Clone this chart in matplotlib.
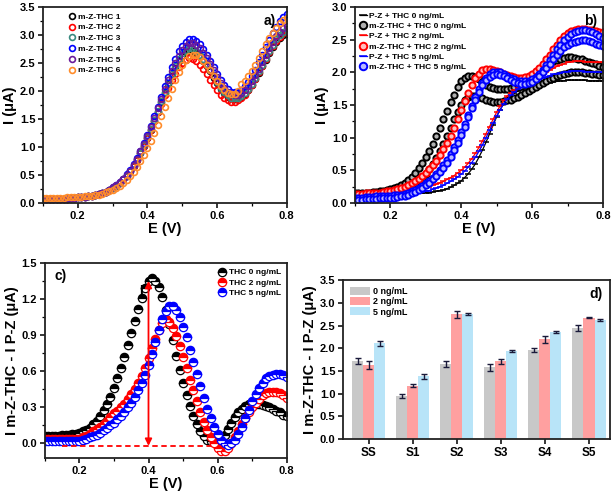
import numpy as np
import matplotlib
matplotlib.use("Agg")
import matplotlib.pyplot as plt
from matplotlib.ticker import MultipleLocator, FormatStrFormatter

plt.rcParams['font.family'] = ['Liberation Sans', 'DejaVu Sans']
plt.rcParams['font.weight'] = 'bold'

# ---------------- data ----------------
E = np.round(np.arange(0.10, 0.8001, 0.01), 2)

# panel a
a_labels = ["m-Z-THC 1", "m-Z-THC 2", "m-Z-THC 3", "m-Z-THC 4", "m-Z-THC 5", "m-Z-THC 6"]
a_colors = ["#000000", "#ff0000", "#3a8a80", "#0000ff", "#6a1b9a", "#ff8c2a"]
a_base = [0.07, 0.07, 0.07, 0.07, 0.08, 0.08, 0.08, 0.08, 0.09, 0.09, 0.10, 0.10, 0.11, 0.12, 0.13, 0.14, 0.16, 0.18, 0.20, 0.23]
a_base6 = [0.09, 0.09, 0.09, 0.09, 0.09, 0.09, 0.09, 0.10, 0.10, 0.10, 0.11, 0.11, 0.12, 0.12, 0.13, 0.14, 0.15, 0.17, 0.19, 0.21]
a1 = a_base + [0.27, 0.31, 0.36, 0.42, 0.49, 0.57, 0.66, 0.77, 0.89, 1.02, 1.16, 1.31, 1.47, 1.63, 1.80, 1.96, 2.12, 2.27, 2.41, 2.53, 2.62, 2.69, 2.72,
               2.71, 2.68, 2.62, 2.54, 2.45, 2.35, 2.24, 2.14, 2.04, 1.96, 1.90, 1.87, 1.86, 1.87, 1.90, 1.95, 2.02, 2.11, 2.21, 2.32, 2.44, 2.56, 2.67, 2.78, 2.87, 2.95, 3.00, 3.02]
a2 = a_base + [0.27, 0.31, 0.36, 0.42, 0.49, 0.57, 0.66, 0.77, 0.89, 1.02, 1.16, 1.31, 1.46, 1.62, 1.77, 1.92, 2.06, 2.19, 2.31, 2.42, 2.50, 2.56, 2.58,
               2.57, 2.53, 2.47, 2.39, 2.30, 2.20, 2.10, 2.01, 1.93, 1.87, 1.83, 1.81, 1.81, 1.83, 1.87, 1.93, 2.01, 2.10, 2.21, 2.33, 2.45, 2.57, 2.69, 2.80, 2.89, 2.97, 3.03, 3.06]
a3 = a_base + [0.27, 0.31, 0.36, 0.42, 0.49, 0.57, 0.67, 0.78, 0.90, 1.03, 1.17, 1.32, 1.48, 1.65, 1.82, 1.99, 2.15, 2.31, 2.45, 2.57, 2.67, 2.73, 2.76,
               2.75, 2.71, 2.65, 2.57, 2.48, 2.38, 2.27, 2.16, 2.06, 1.98, 1.92, 1.88, 1.87, 1.88, 1.91, 1.96, 2.03, 2.12, 2.23, 2.35, 2.47, 2.59, 2.71, 2.82, 2.92, 3.00, 3.06, 3.10]
a4 = a_base + [0.28, 0.32, 0.37, 0.43, 0.51, 0.59, 0.69, 0.80, 0.93, 1.07, 1.22, 1.38, 1.55, 1.72, 1.90, 2.08, 2.25, 2.42, 2.57, 2.71, 2.81, 2.88, 2.92,
               2.92, 2.89, 2.83, 2.75, 2.65, 2.54, 2.42, 2.30, 2.19, 2.10, 2.03, 1.99, 1.98, 1.99, 2.02, 2.08, 2.16, 2.26, 2.38, 2.51, 2.64, 2.78, 2.91, 3.03, 3.14, 3.24, 3.32, 3.38]
a5 = a_base + [0.28, 0.32, 0.37, 0.43, 0.50, 0.58, 0.68, 0.79, 0.92, 1.05, 1.20, 1.36, 1.52, 1.69, 1.86, 2.03, 2.20, 2.36, 2.50, 2.63, 2.74, 2.81, 2.85,
               2.85, 2.82, 2.76, 2.68, 2.59, 2.48, 2.37, 2.25, 2.15, 2.06, 1.99, 1.94, 1.92, 1.93, 1.96, 2.01, 2.08, 2.17, 2.28, 2.40, 2.52, 2.65, 2.77, 2.88, 2.98, 3.06, 3.12, 3.16]
a6 = a_base6 + [0.23, 0.26, 0.30, 0.35, 0.41, 0.48, 0.56, 0.65, 0.75, 0.86, 0.98, 1.11, 1.25, 1.40, 1.56, 1.72, 1.88, 2.04, 2.19, 2.33, 2.46, 2.56, 2.63,
                2.65, 2.64, 2.60, 2.54, 2.46, 2.37, 2.27, 2.17, 2.08, 2.01, 1.96, 1.94, 1.94, 2.00, 2.12, 2.18, 2.26, 2.36, 2.47, 2.59, 2.71, 2.83, 2.94, 3.04, 3.13, 3.21, 3.27, 3.31]
a_series = [a1, a2, a3, a4, a5, a6]

# panel b
b_pz0 = [0.12, 0.12, 0.12, 0.12, 0.12, 0.12, 0.12, 0.12, 0.12, 0.13, 0.13,
         0.13, 0.13, 0.13, 0.13, 0.14, 0.14, 0.14, 0.15, 0.15, 0.16,
         0.16, 0.17, 0.18, 0.19, 0.20, 0.22, 0.24, 0.27, 0.30, 0.34,
         0.39, 0.45, 0.52, 0.60, 0.70, 0.81, 0.93, 1.06, 1.19, 1.32,
         1.43, 1.52, 1.59, 1.64, 1.68, 1.71, 1.73, 1.75, 1.77, 1.78,
         1.80, 1.81, 1.82, 1.83, 1.84, 1.85, 1.86, 1.87, 1.87, 1.88,
         1.88, 1.88, 1.88, 1.88, 1.88, 1.87, 1.87, 1.87, 1.87, 1.87]
b_mz0_a = [0.15, 0.15, 0.15, 0.16, 0.16, 0.17, 0.17, 0.18, 0.19, 0.20, 0.21,
           0.23, 0.25, 0.28, 0.31, 0.35, 0.40, 0.46, 0.53, 0.61, 0.70,
           0.80, 0.91, 1.03, 1.15, 1.28, 1.41, 1.54, 1.66, 1.77, 1.86,
           1.92, 1.95, 1.95, 1.93, 1.89, 1.85, 1.81, 1.78, 1.76, 1.75,
           1.74, 1.74, 1.75, 1.76, 1.78, 1.80, 1.83, 1.86, 1.90, 1.94,
           1.98, 2.02, 2.06, 2.10, 2.14, 2.17, 2.19, 2.21, 2.22, 2.23,
           2.23, 2.22, 2.21, 2.20, 2.18, 2.16, 2.14, 2.12, 2.10, 2.08]
b_mz0_b = [0.13, 0.13, 0.13, 0.14, 0.14, 0.14, 0.15, 0.15, 0.16, 0.16, 0.17,
           0.18, 0.19, 0.21, 0.23, 0.25, 0.28, 0.31, 0.35, 0.40, 0.45,
           0.52, 0.60, 0.69, 0.79, 0.90, 1.02, 1.15, 1.28, 1.40, 1.50,
           1.57, 1.62, 1.64, 1.64, 1.62, 1.60, 1.58, 1.56, 1.55, 1.55,
           1.55, 1.56, 1.57, 1.58, 1.60, 1.62, 1.65, 1.68, 1.71, 1.74,
           1.77, 1.80, 1.83, 1.86, 1.89, 1.92, 1.94, 1.96, 1.98, 1.99,
           2.00, 2.00, 2.00, 2.00, 1.99, 1.99, 1.98, 1.97, 1.96, 1.96]
b_pz2 = [0.12, 0.12, 0.12, 0.12, 0.12, 0.12, 0.12, 0.12, 0.13, 0.13, 0.13,
         0.14, 0.14, 0.15, 0.16, 0.17, 0.18, 0.19, 0.20, 0.22, 0.23,
         0.25, 0.27, 0.29, 0.31, 0.33, 0.36, 0.39, 0.42, 0.46, 0.50,
         0.55, 0.61, 0.68, 0.76, 0.85, 0.95, 1.06, 1.17, 1.28, 1.39,
         1.49, 1.57, 1.64, 1.69, 1.73, 1.76, 1.79, 1.82, 1.85, 1.88,
         1.91, 1.94, 1.97, 2.00, 2.03, 2.06, 2.09, 2.11, 2.13, 2.15,
         2.16, 2.17, 2.17, 2.17, 2.16, 2.16, 2.15, 2.15, 2.15, 2.15]
b_mz2 = [0.14, 0.14, 0.14, 0.15, 0.15, 0.15, 0.16, 0.16, 0.17, 0.18, 0.19,
         0.20, 0.21, 0.23, 0.25, 0.27, 0.30, 0.33, 0.37, 0.41, 0.46,
         0.52, 0.58, 0.65, 0.73, 0.82, 0.92, 1.03, 1.15, 1.28, 1.42,
         1.56, 1.69, 1.81, 1.91, 1.98, 2.03, 2.05, 2.05, 2.04, 2.02,
         2.00, 1.98, 1.96, 1.94, 1.93, 1.92, 1.92, 1.93, 1.95, 1.98,
         2.02, 2.07, 2.13, 2.20, 2.27, 2.35, 2.42, 2.49, 2.55, 2.60,
         2.63, 2.65, 2.66, 2.66, 2.66, 2.65, 2.64, 2.63, 2.62, 2.61]
b_pz5 = [0.10, 0.10, 0.10, 0.10, 0.10, 0.10, 0.10, 0.10, 0.11, 0.11, 0.11,
         0.11, 0.12, 0.12, 0.13, 0.13, 0.14, 0.15, 0.16, 0.17, 0.18,
         0.19, 0.21, 0.23, 0.25, 0.27, 0.30, 0.33, 0.36, 0.40, 0.44,
         0.49, 0.55, 0.62, 0.70, 0.79, 0.89, 1.00, 1.11, 1.22, 1.33,
         1.43, 1.52, 1.59, 1.65, 1.70, 1.74, 1.77, 1.80, 1.83, 1.85,
         1.87, 1.89, 1.91, 1.93, 1.95, 1.97, 1.98, 1.99, 2.00, 2.01,
         2.02, 2.02, 2.02, 2.02, 2.01, 2.01, 2.01, 2.00, 2.00, 2.00]
b_mz5_a = [0.08, 0.08, 0.08, 0.09, 0.09, 0.09, 0.10, 0.10, 0.10, 0.11, 0.11,
           0.12, 0.12, 0.13, 0.14, 0.16, 0.18, 0.20, 0.23, 0.26, 0.30,
           0.34, 0.39, 0.45, 0.51, 0.58, 0.66, 0.75, 0.85, 0.96, 1.08,
           1.21, 1.35, 1.49, 1.62, 1.74, 1.84, 1.92, 1.97, 2.00, 2.01,
           2.00, 1.98, 1.95, 1.92, 1.89, 1.87, 1.86, 1.86, 1.87, 1.89,
           1.93, 1.98, 2.04, 2.11, 2.19, 2.27, 2.35, 2.42, 2.49, 2.54,
           2.58, 2.61, 2.63, 2.64, 2.64, 2.63, 2.61, 2.58, 2.55, 2.52]
b_mz5_b = [0.05, 0.05, 0.05, 0.06, 0.06, 0.06, 0.06, 0.07, 0.07, 0.07, 0.08,
           0.08, 0.09, 0.10, 0.11, 0.13, 0.15, 0.17, 0.20, 0.23, 0.27,
           0.31, 0.36, 0.41, 0.47, 0.54, 0.62, 0.71, 0.81, 0.92, 1.04,
           1.17, 1.31, 1.45, 1.58, 1.70, 1.80, 1.88, 1.93, 1.96, 1.97,
           1.96, 1.94, 1.91, 1.88, 1.85, 1.83, 1.82, 1.82, 1.83, 1.85,
           1.89, 1.94, 2.00, 2.06, 2.13, 2.20, 2.27, 2.33, 2.38, 2.42,
           2.45, 2.47, 2.48, 2.49, 2.49, 2.48, 2.46, 2.44, 2.42, 2.40]

# panel c
c_labels = ["THC 0 ng/mL", "THC 2 ng/mL", "THC 5 ng/mL"]
c0 = [0.06, 0.06, 0.06, 0.06, 0.06, 0.07, 0.07, 0.07, 0.08, 0.08, 0.09,
      0.10, 0.11, 0.13, 0.16, 0.19, 0.23, 0.28, 0.33, 0.39, 0.46,
      0.54, 0.63, 0.72, 0.82, 0.92, 1.02, 1.12, 1.21, 1.29, 1.35,
      1.37, 1.35, 1.30, 1.22, 1.11, 0.99, 0.86, 0.73, 0.61, 0.50,
      0.40, 0.31, 0.23, 0.16, 0.10, 0.06, 0.03, 0.02, 0.01, 0.01,
      0.03, 0.07, 0.12, 0.17, 0.22, 0.26, 0.29, 0.31, 0.33, 0.33,
      0.33, 0.33, 0.32, 0.31, 0.30, 0.29, 0.27, 0.26, 0.24, 0.23]
c2 = [0.04, 0.04, 0.04, 0.04, 0.04, 0.04, 0.04, 0.04, 0.04, 0.04, 0.04,
      0.05, 0.06, 0.08, 0.10, 0.12, 0.14, 0.16, 0.19, 0.22, 0.25,
      0.27, 0.30, 0.33, 0.37, 0.41, 0.45, 0.50, 0.56, 0.63, 0.71,
      0.79, 0.87, 0.94, 1.00, 1.03, 1.01, 0.96, 0.89, 0.81, 0.72,
      0.63, 0.53, 0.44, 0.35, 0.26, 0.18, 0.11, 0.05, 0.00, -0.04,
      -0.06, -0.06, -0.04, 0.00, 0.05, 0.10, 0.16, 0.21, 0.26, 0.30,
      0.34, 0.37, 0.40, 0.42, 0.43, 0.43, 0.43, 0.42, 0.40, 0.38]
c5 = [0.02, 0.02, 0.02, 0.02, 0.02, 0.02, 0.02, 0.02, 0.02, 0.02, 0.02,
      0.03, 0.04, 0.05, 0.06, 0.07, 0.09, 0.11, 0.13, 0.15, 0.17,
      0.20, 0.23, 0.26, 0.30, 0.34, 0.39, 0.44, 0.50, 0.57, 0.65,
      0.74, 0.84, 0.94, 1.03, 1.10, 1.14, 1.14, 1.11, 1.05, 0.97,
      0.88, 0.78, 0.68, 0.58, 0.48, 0.38, 0.29, 0.21, 0.14, 0.08,
      0.03, 0.00, -0.01, 0.00, 0.03, 0.08, 0.14, 0.21, 0.28, 0.35,
      0.41, 0.46, 0.50, 0.54, 0.56, 0.57, 0.58, 0.58, 0.57, 0.55]
c_series = [c0, c2, c5]
c_colors = ["#000000", "#ff0000", "#0000ff"]
arrow_E = 0.40
arrow_top = 1.35
baseline_I = -0.02
baseline_E = [0.15, 0.58]

# panel d
d_cats = ["SS", "S1", "S2", "S3", "S4", "S5"]
d_labels = ["0 ng/mL", "2 ng/mL", "5 ng/mL"]
d_vals = [[1.72, 0.95, 1.65, 1.58, 1.96, 2.45],
          [1.63, 1.18, 2.75, 1.71, 2.20, 2.67],
          [2.11, 1.38, 2.76, 1.94, 2.36, 2.63]]
d_errs = [[0.07, 0.05, 0.06, 0.07, 0.04, 0.07],
          [0.08, 0.04, 0.08, 0.06, 0.08, 0.01],
          [0.06, 0.06, 0.02, 0.03, 0.03, 0.02]]
d_colors = ["#c8c8c8", "#ffa0a0", "#b8e4f8"]

# ---------------- figure ----------------
fig = plt.figure(figsize=(6.14, 4.94), dpi=100)
TICK_FS = 8
LAB_FS = 10.5


def style_axes(ax, xfmt=True):
    for s in ax.spines.values():
        s.set_linewidth(1.3)
        s.set_color("#222222")
    ax.tick_params(which='major', direction='out', length=3.5, width=1.1, labelsize=TICK_FS, pad=2)
    ax.tick_params(which='minor', direction='out', length=2, width=0.9)
    ax.yaxis.set_major_formatter(FormatStrFormatter('%.1f'))
    if xfmt:
        ax.xaxis.set_major_formatter(FormatStrFormatter('%.1f'))


# panel a
axa = fig.add_axes([0.070, 0.589, 0.397, 0.397])
for y, c, lab in zip(a_series, a_colors, a_labels):
    axa.plot(E, y, linestyle='none', marker='o', ms=4.2, mfc='none', mec=c, mew=1.2, label=lab)
axa.set_xlim(0.1, 0.8)
axa.set_ylim(0, 3.5)
axa.xaxis.set_major_locator(MultipleLocator(0.2))
axa.xaxis.set_minor_locator(MultipleLocator(0.1))
axa.yaxis.set_major_locator(MultipleLocator(0.5))
axa.yaxis.set_minor_locator(MultipleLocator(0.25))
axa.set_xlabel("E (V)", fontsize=LAB_FS, fontweight='bold', labelpad=1)
axa.set_ylabel("I (μA)", fontsize=LAB_FS, fontweight='bold', labelpad=2)
style_axes(axa)
axa.legend(loc='upper left', bbox_to_anchor=(0.08, 0.995), frameon=False,
           prop={'size': 6, 'weight': 'bold'}, handletextpad=0.3, labelspacing=0.35,
           handlelength=1.0, borderaxespad=0.2)
axa.text(0.955, 0.93, "a)", transform=axa.transAxes, fontsize=10, fontweight='bold', ha='right', va='center')

# panel b
axb = fig.add_axes([0.578, 0.589, 0.404, 0.397])
b_sets = [
    (b_pz0, [b_mz0_a, b_mz0_b], "#000000", "P-Z + THC 0 ng/mL", "m-Z-THC + THC 0 ng/mL"),
    (b_pz2, [b_mz2], "#ff0000", "P-Z + THC 2 ng/mL", "m-Z-THC + THC 2 ng/mL"),
    (b_pz5, [b_mz5_a, b_mz5_b], "#0000ff", "P-Z + THC 5 ng/mL", "m-Z-THC + THC 5 ng/mL"),
]
lighter = {"#000000": "#b0b0b0", "#ff0000": "#ffc0c0", "#0000ff": "#b8b8ff"}
for pz, mzs, col, lpz, lmz in b_sets:
    axb.plot(E, pz, color=col, lw=0.9, marker='_', ms=5, mew=1.1, label=lpz)
    for i, mz in enumerate(mzs):
        axb.plot(E, mz, linestyle='none', marker='o', ms=4.5, mfc=lighter[col], mec=col, mew=1.4,
                 label=lmz if i == 0 else None)
axb.set_xlim(0.1, 0.8)
axb.set_ylim(0, 3.0)
axb.xaxis.set_major_locator(MultipleLocator(0.2))
axb.xaxis.set_minor_locator(MultipleLocator(0.1))
axb.yaxis.set_major_locator(MultipleLocator(0.5))
axb.yaxis.set_minor_locator(MultipleLocator(0.25))
axb.set_xlabel("E (V)", fontsize=LAB_FS, fontweight='bold', labelpad=1)
axb.set_ylabel("I (μA)", fontsize=LAB_FS, fontweight='bold', labelpad=2)
style_axes(axb)
axb.legend(loc='upper left', bbox_to_anchor=(0.0, 1.0), frameon=False,
           prop={'size': 6, 'weight': 'bold'}, handletextpad=0.3, labelspacing=0.3,
           handlelength=0.8, borderaxespad=0.2, markerscale=1.2)
axb.text(0.975, 0.93, "b)", transform=axb.transAxes, fontsize=10, fontweight='bold', ha='right', va='center')

# panel c
axc = fig.add_axes([0.073, 0.073, 0.394, 0.395])
for y, c, lab in zip(c_series, c_colors, c_labels):
    axc.plot(E, y, linestyle='none', marker='o', ms=6, fillstyle='top', mfc=c, mfcalt='white',
             mec=c, mew=0.9, label=lab)
axc.plot(baseline_E, [baseline_I, baseline_I], color='#ff0000', ls='--', lw=1.3, dashes=(3, 2))
axc.annotate("", xy=(arrow_E, baseline_I), xytext=(arrow_E, arrow_top),
             arrowprops=dict(arrowstyle='<|-|>', color='#ff0000', lw=1.3, mutation_scale=10,
                             shrinkA=0, shrinkB=0))
axc.text(arrow_E - 0.022, 1.27, "I", fontsize=10, fontweight='bold', ha='center', va='center')
axc.set_xlim(0.1, 0.8)
axc.set_ylim(-0.12, 1.5)
axc.xaxis.set_major_locator(MultipleLocator(0.2))
axc.xaxis.set_minor_locator(MultipleLocator(0.1))
axc.yaxis.set_major_locator(MultipleLocator(0.3))
axc.yaxis.set_minor_locator(MultipleLocator(0.15))
axc.set_xlabel("E (V)", fontsize=LAB_FS, fontweight='bold', labelpad=1)
axc.set_ylabel("I m-Z-THC - I P-Z (μA)", fontsize=LAB_FS, fontweight='bold', labelpad=2)
style_axes(axc)
axc.legend(loc='upper right', bbox_to_anchor=(1.0, 1.0), frameon=False,
           prop={'size': 6, 'weight': 'bold'}, handletextpad=0.3, labelspacing=0.3,
           handlelength=1.0, borderaxespad=0.3)
axc.text(0.04, 0.93, "c)", transform=axc.transAxes, fontsize=10, fontweight='bold', ha='left', va='center')

# panel d
axd = fig.add_axes([0.559, 0.111, 0.434, 0.322])
xpos = np.arange(len(d_cats))
w = 0.25
for i in range(3):
    axd.bar(xpos + (i - 1) * w, d_vals[i], width=w, color=d_colors[i], label=d_labels[i],
            yerr=d_errs[i], capsize=2, error_kw=dict(ecolor='#1a1a3a', elinewidth=1.0, capthick=1.0))
axd.set_xlim(-0.58, 5.47)
axd.set_ylim(0, 3.5)
axd.set_xticks(xpos)
axd.set_xticklabels(d_cats)
axd.yaxis.set_major_locator(MultipleLocator(0.5))
axd.set_ylabel("I m-Z-THC - I P-Z (μA)", fontsize=LAB_FS, fontweight='bold', labelpad=2)
style_axes(axd, xfmt=False)
axd.tick_params(axis='x', labelsize=8.5)
axd.legend(loc='upper left', bbox_to_anchor=(0.0, 1.0), frameon=False,
           prop={'size': 6.5, 'weight': 'bold'}, handletextpad=0.3, labelspacing=0.1,
           handlelength=2.2, handleheight=1.0, borderaxespad=0.4)
axd.text(0.975, 0.91, "d)", transform=axd.transAxes, fontsize=10, fontweight='bold', ha='right', va='center')

fig.savefig("out.png", dpi=100)
